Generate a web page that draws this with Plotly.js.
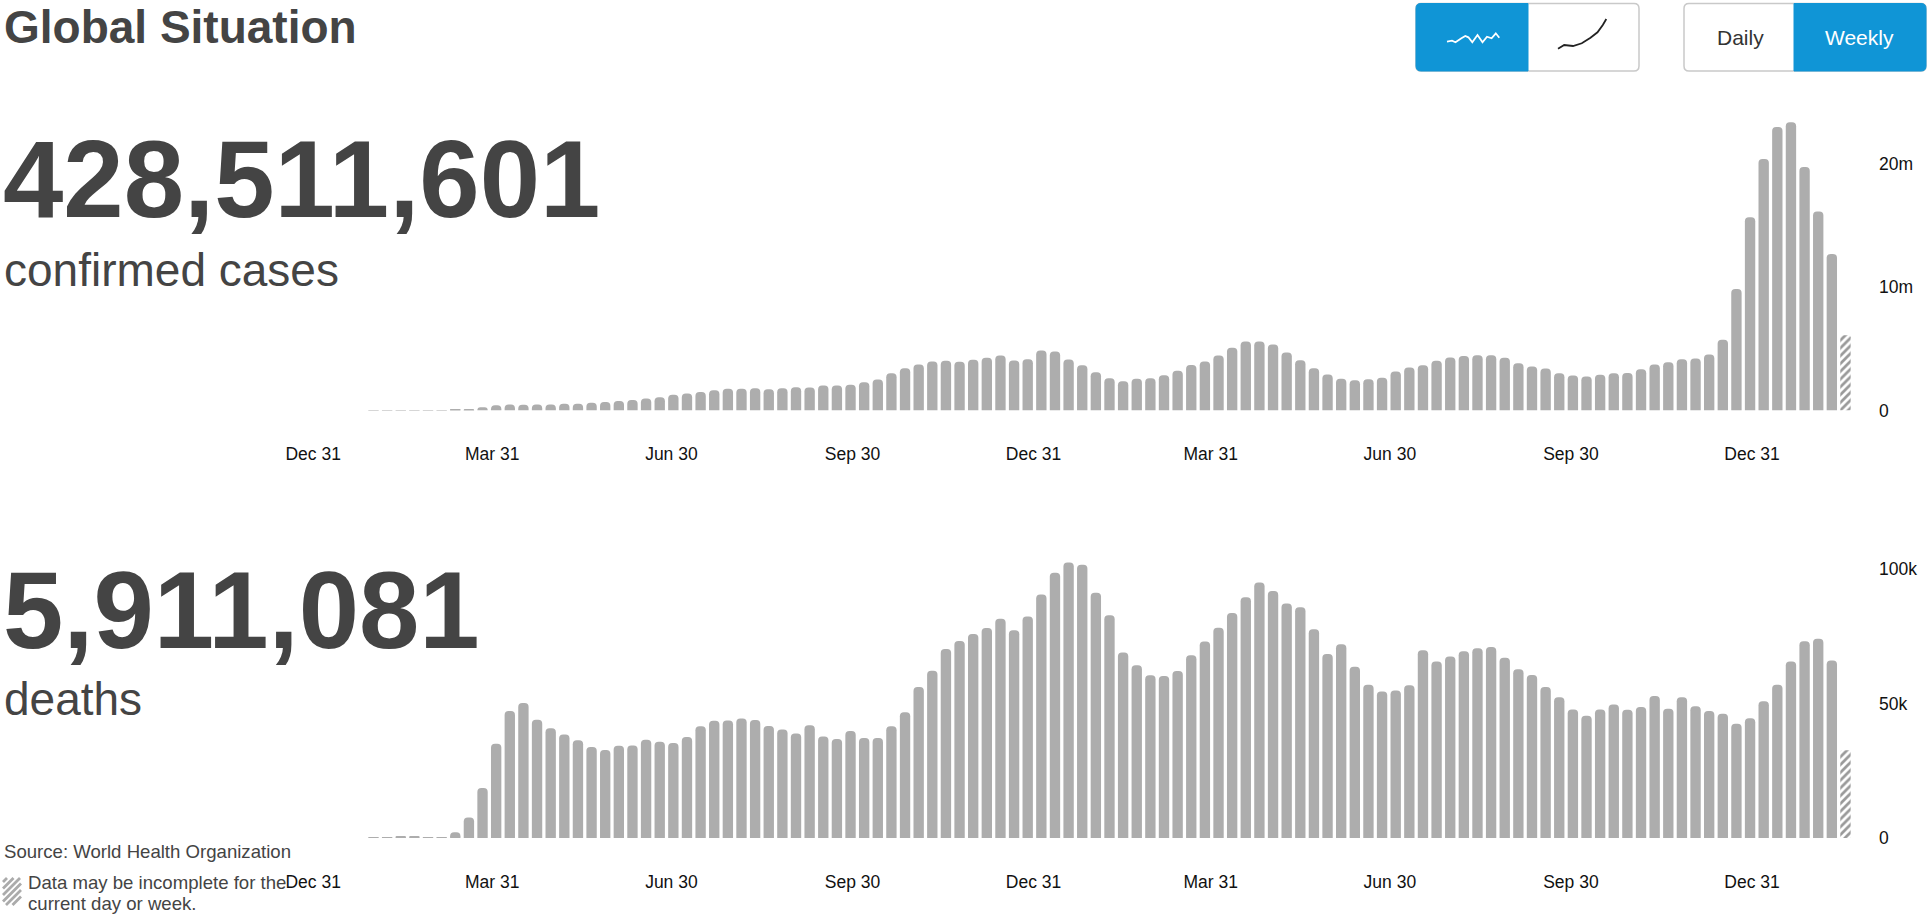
<!DOCTYPE html>
<html>
<head>
<meta charset="utf-8">
<title>Global Situation</title>
<script src="https://cdn.plot.ly/plotly-3.0.1.min.js"></script>
<style>html,body{margin:0;padding:0;background:#fff;overflow:hidden}#chart{width:1930px;height:917px}</style>
</head>
<body>
<div id="chart"></div>
<script>
// ---- data ----
const weeks = [
"2020-01-19","2020-01-26","2020-02-02","2020-02-09","2020-02-16","2020-02-23","2020-03-01","2020-03-08","2020-03-15","2020-03-22",
"2020-03-29","2020-04-05","2020-04-12","2020-04-19","2020-04-26","2020-05-03","2020-05-10","2020-05-17","2020-05-24","2020-05-31",
"2020-06-07","2020-06-14","2020-06-21","2020-06-28","2020-07-05","2020-07-12","2020-07-19","2020-07-26","2020-08-02","2020-08-09",
"2020-08-16","2020-08-23","2020-08-30","2020-09-06","2020-09-13","2020-09-20","2020-09-27","2020-10-04","2020-10-11","2020-10-18",
"2020-10-25","2020-11-01","2020-11-08","2020-11-15","2020-11-22","2020-11-29","2020-12-06","2020-12-13","2020-12-20","2020-12-27",
"2021-01-03","2021-01-10","2021-01-17","2021-01-24","2021-01-31","2021-02-07","2021-02-14","2021-02-21","2021-02-28","2021-03-07",
"2021-03-14","2021-03-21","2021-03-28","2021-04-04","2021-04-11","2021-04-18","2021-04-25","2021-05-02","2021-05-09","2021-05-16",
"2021-05-23","2021-05-30","2021-06-06","2021-06-13","2021-06-20","2021-06-27","2021-07-04","2021-07-11","2021-07-18","2021-07-25",
"2021-08-01","2021-08-08","2021-08-15","2021-08-22","2021-08-29","2021-09-05","2021-09-12","2021-09-19","2021-09-26","2021-10-03",
"2021-10-10","2021-10-17","2021-10-24","2021-10-31","2021-11-07","2021-11-14","2021-11-21","2021-11-28","2021-12-05","2021-12-12",
"2021-12-19","2021-12-26","2022-01-02","2022-01-09","2022-01-16","2022-01-23","2022-01-30","2022-02-06"];
const incompleteWeek = ["2022-02-13"];

// weekly confirmed cases, millions
const casesWeekly = [
.01,.01,.01,.003,.003,.01,.06,.13,.27,.43,.49,.46,.49,.49,.54,.54,.62,.68,.78,.86,
.97,1.08,1.27,1.38,1.51,1.65,1.76,1.76,1.81,1.73,1.81,1.89,1.86,2.03,2.03,2.08,2.3,2.51,3.03,3.43,
3.73,3.97,4.03,3.95,4.11,4.27,4.46,4.05,4.16,4.86,4.78,4.14,3.68,3.11,2.62,2.38,2.57,2.62,2.86,3.22,
3.7,3.97,4.46,5.1,5.6,5.6,5.35,4.7,4.08,3.43,2.92,2.57,2.46,2.54,2.65,3.16,3.49,3.68,4.03,4.3,
4.43,4.49,4.49,4.27,3.84,3.57,3.41,3.03,2.84,2.76,2.89,3.03,3.05,3.35,3.73,3.92,4.16,4.22,4.54,5.74,
9.86,15.68,20.4,23,23.38,19.76,16.14,12.7];
const casesIncomplete = [6.1];

// weekly deaths, thousands
const deathsWeekly = [
.1,.2,.5,.4,.2,.3,2.1,7.6,18.6,35,47.2,50.2,44,40.8,38.5,36.3,33.8,32.7,34.3,34.4,
36.5,35.8,35.3,37.5,41.5,43.6,43.7,44.4,43.9,41.6,40.3,38.8,41.9,37.7,36.8,39.8,37.2,37.2,41.5,46.7,
56.1,62.2,70.3,73.2,75.8,78.1,81.5,77.2,82.3,90.5,98.6,102.4,101.6,91.2,82.8,69,64.2,60.5,60.2,62.1,
67.9,73,78.2,83.6,89.5,95,91.8,87.2,85.8,77.6,68.4,72,63.7,57,54.5,54.8,56.8,69.8,65.6,67.5,
69.4,70.5,71,67,62.7,60.6,56.1,52.3,47.8,45.4,47.8,49.6,47.7,48.7,52.8,48,52.3,49,47.2,46.2,
42.5,44.5,50.8,57,65.6,73.1,74.1,66];
const deathsIncomplete = [32.6];

// x tick labels and where the reference puts them
const xTickText = ["Dec 31","Mar 31","Jun 30","Sep 30","Dec 31","Mar 31","Jun 30","Sep 30","Dec 31"];
const xTickVals = ["2019-12-19","2020-03-20","2020-06-20","2020-09-21","2020-12-23","2021-03-24","2021-06-24","2021-09-25","2021-12-27"];
const casesTickVals = [0,10,20];
const casesTickText = ["0","10m","20m"];
const deathsTickVals = [0,50,100];
const deathsTickText = ["0","50k","100k"];

const title = "Global Situation";
const casesTotal = "428,511,601";
const casesLabel = "confirmed cases";
const deathsTotal = "5,911,081";
const deathsLabel = "deaths";

// ---- helpers: page pixels to paper fractions ----
const W = 1930, H = 917;
const px = x => x / W;
const py = y => 1 - y / H;
const FONT = '"Liberation Sans", Arial, Helvetica, sans-serif';
const BAR = '#adadad', BLUE = '#1095d6', EDGE = '#c9c9c9', INK = '#444444', TICK = '#111111';

function P(x, y) { return px(x).toFixed(6) + ' ' + py(y).toFixed(6); }
function box(x0, y0, x1, y1, rl, rr) {
  return 'M' + P(x0 + rl, y0) + ' L' + P(x1 - rr, y0) + ' Q' + P(x1, y0) + ' ' + P(x1, y0 + rr) +
    ' L' + P(x1, y1 - rr) + ' Q' + P(x1, y1) + ' ' + P(x1 - rr, y1) +
    ' L' + P(x0 + rl, y1) + ' Q' + P(x0, y1) + ' ' + P(x0, y1 - rl) +
    ' L' + P(x0, y0 + rl) + ' Q' + P(x0, y0) + ' ' + P(x0 + rl, y0) + ' Z';
}
function polyline(pts) { return pts.map((p, i) => (i ? 'L' : 'M') + P(p[0], p[1])).join(' '); }
const shapePath = (path, fill, lineColor, lineWidth) => ({
  type: 'path', xref: 'paper', yref: 'paper', layer: 'above', path,
  fillcolor: fill, line: {color: lineColor, width: lineWidth}
});
const text = (t, x, y, size, color, opts) => Object.assign({
  text: t, xref: 'paper', yref: 'paper', x: px(x), y: py(y), xanchor: 'left', yanchor: 'middle',
  showarrow: false, align: 'left', borderpad: 0,
  font: {family: FONT, size, color}
}, opts || {});

const barWidth = 7 * 864e5 * 0.76;
const hatch = {shape: '/', fgcolor: '#9a9a9a', bgcolor: '#ffffff', size: 5.5, solidity: 0.5};
const solid = (x, y, xa, ya) => ({type: 'bar', x, y, xaxis: xa, yaxis: ya, width: barWidth,
  marker: {color: BAR, cornerradius: 4, line: {width: 0}}, hoverinfo: 'x+y', showlegend: false});
const dashed = (x, y, xa, ya) => ({type: 'bar', x, y, xaxis: xa, yaxis: ya, width: barWidth,
  marker: {color: '#ffffff', pattern: hatch, cornerradius: 2, line: {width: 0}}, hoverinfo: 'x+y', showlegend: false});

const data = [
  solid(weeks, casesWeekly, 'x', 'y'),
  dashed(incompleteWeek, casesIncomplete, 'x', 'y'),
  solid(weeks, deathsWeekly, 'x2', 'y2'),
  dashed(incompleteWeek, deathsIncomplete, 'x2', 'y2')
];

const xRange = ['2019-12-12 06:00', '2022-03-01 17:00'];
const xAxis = (anchor) => ({
  type: 'date', range: xRange, domain: [px(300), px(1878)], anchor,
  tickmode: 'array', tickvals: xTickVals, ticktext: xTickText,
  showgrid: false, zeroline: false, showline: false, ticks: '', ticklen: 0, ticklabelstandoff: 31,
  tickangle: 0, tickfont: {family: FONT, size: 17.5, color: TICK}, fixedrange: true
});
const yAxis = (anchor, dom, range, vals, txt) => ({
  domain: dom, range, anchor, side: 'right', tickmode: 'array', tickvals: vals, ticktext: txt,
  showgrid: false, zeroline: false, showline: false, ticks: '', ticklen: 0,
  tickfont: {family: FONT, size: 17.5, color: TICK}, fixedrange: true
});

// hatch swatch beside the note: diagonals clipped to a small box
const sx0 = 3, sx1 = 21, sy0 = 878, sy1 = 905, swatch = [];
for (let c = sy0 + sx0 + 4; c < sy1 + sx1 - 2; c += 6.5) {
  let ax = sx0, ay = c - sx0;
  if (ay > sy1) { ay = sy1; ax = c - sy1; }
  let bx = c - sy0, by = sy0;
  if (bx > sx1) { bx = sx1; by = c - sx1; }
  swatch.push('M' + P(ax, ay) + ' L' + P(bx, by));
}

const shapes = [
  shapePath(box(1416, 3.5, 1639, 71, 5, 5), '#ffffff', EDGE, 1.5),
  shapePath(box(1416, 3.5, 1528, 71, 5, 0), BLUE, BLUE, 1),
  shapePath(box(1684, 3.5, 1926, 71, 5, 5), '#ffffff', EDGE, 1.5),
  shapePath(box(1794, 3.5, 1926, 71, 0, 5), BLUE, BLUE, 1),
  shapePath(polyline([[1447,41.7],[1452,40.7],[1455.5,42.3],[1461.4,38.3],[1465.3,36],[1468.4,37.3],[1472.3,42.3],[1477.5,35],[1482.5,42.3],[1487,36.7],[1491.6,38.3],[1495.8,33.3],[1499.3,37.7]]),
    'rgba(0,0,0,0)', '#ffffff', 1.8),
  shapePath(polyline([[1558,48.7],[1564.2,45],[1573,46],[1581.8,43.3],[1590.5,37.7],[1597.5,32.3],[1602.8,25],[1606.3,19]]),
    'rgba(0,0,0,0)', '#222222', 1.8),
  shapePath(swatch.join(' '), 'rgba(0,0,0,0)', '#ababab', 2.8)
];

const annotations = [
  text(title, 3, 27.5, 46, INK, {font: {family: FONT, size: 46, color: INK, weight: 700}}),
  text(casesTotal, 2, 179, 108.5, INK, {font: {family: FONT, size: 108.5, color: INK, weight: 700}}),
  text(casesLabel, 3, 270, 46, INK),
  text(deathsTotal, 2, 610, 108.5, INK, {font: {family: FONT, size: 108.5, color: INK, weight: 700}}),
  text(deathsLabel, 3, 699, 46, INK),
  text("Source: World Health Organization", 3, 851, 18.6, INK),
  text("Data may be incomplete for the", 27, 882, 18.6, INK),
  text("current day or week.", 27, 903, 18.6, INK),
  text("Daily", 1740, 37, 21, '#333333', {xanchor: 'center'}),
  text("Weekly", 1859, 37, 21, '#ffffff', {xanchor: 'center'})
];

const layout = {
  width: W, height: H,
  margin: {l: 0, r: 0, t: 0, b: 0, pad: 0},
  paper_bgcolor: '#ffffff', plot_bgcolor: '#ffffff',
  barmode: 'overlay', showlegend: false, hovermode: 'closest',
  font: {family: FONT},
  xaxis: xAxis('y'),
  yaxis: yAxis('x', [py(410.5), py(115)], [0, 23.97], casesTickVals, casesTickText),
  xaxis2: xAxis('y2'),
  yaxis2: yAxis('x2', [py(838), py(555)], [0, 105.2], deathsTickVals, deathsTickText),
  shapes, annotations
};

Plotly.newPlot('chart', data, layout, {displayModeBar: false, responsive: false, staticPlot: false});
</script>
</body>
</html>
